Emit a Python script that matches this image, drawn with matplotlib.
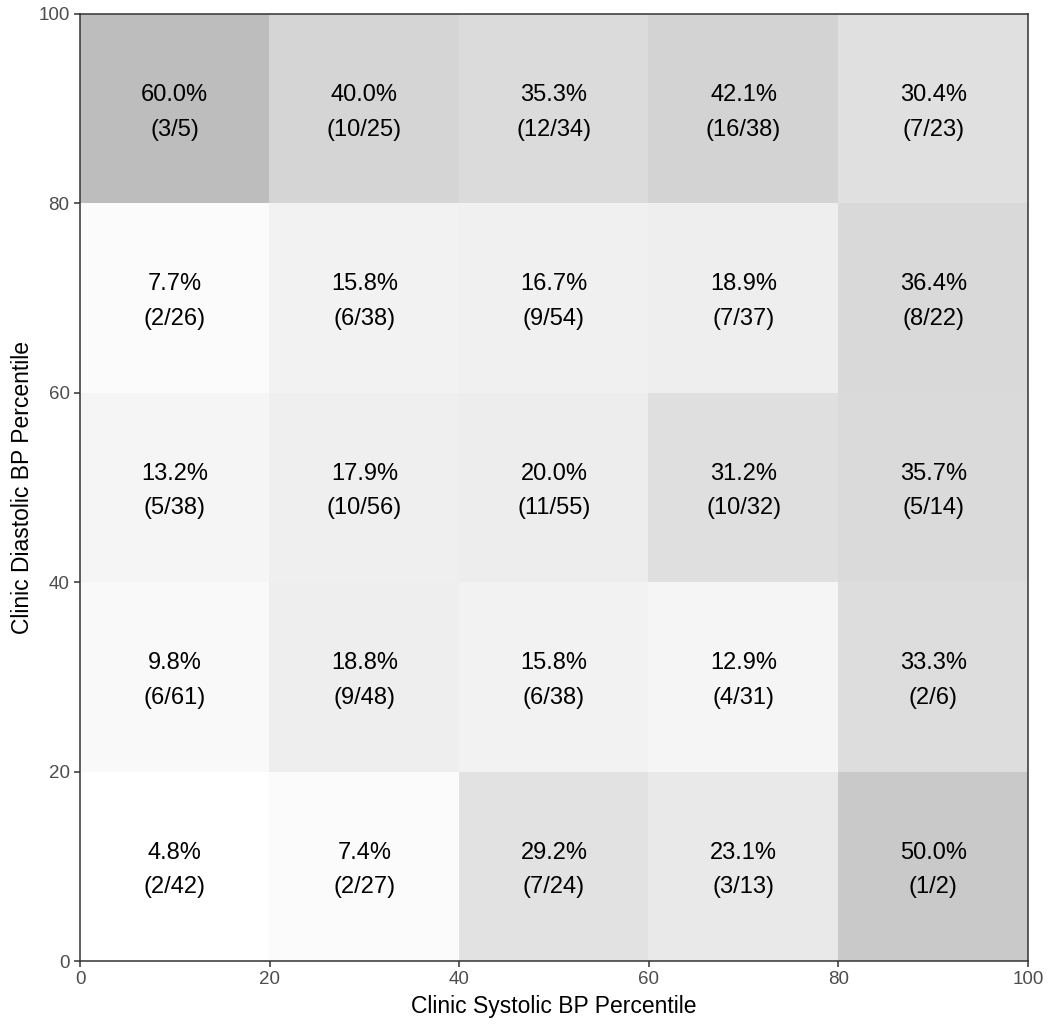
import numpy as np
import matplotlib
matplotlib.use("Agg")
import matplotlib.pyplot as plt

plt.rcParams['font.family'] = ['Liberation Sans', 'DejaVu Sans']

# bins (percentile edges)
edges = [0, 20, 40, 60, 80, 100]

# events / totals, rows from bottom (diastolic 0-20) to top (80-100),
# columns systolic 0-20 ... 80-100
events = np.array([
    [2, 2, 7, 3, 1],
    [6, 9, 6, 4, 2],
    [5, 10, 11, 10, 5],
    [2, 6, 9, 7, 8],
    [3, 10, 12, 16, 7],
])
totals = np.array([
    [42, 27, 24, 13, 2],
    [61, 48, 38, 31, 6],
    [38, 56, 55, 32, 14],
    [26, 38, 54, 37, 22],
    [5, 25, 34, 38, 23],
])

rate = events / totals

fig = plt.figure(figsize=(10.5, 10.26), dpi=100)
ax = fig.add_axes([80 / 1050, 65 / 1026, 948 / 1050, 947 / 1026])

# white (lowest rate) -> grey (highest rate)
t = (rate - rate.min()) / (rate.max() - rate.min())
grey = 1 - 0.255 * t
rgb = np.dstack([grey, grey, grey])
ax.imshow(rgb, extent=[0, 100, 0, 100], origin='lower', aspect='auto',
          interpolation='nearest')

centers = [(edges[i] + edges[i + 1]) / 2 for i in range(5)]
for r in range(5):
    for c in range(5):
        x, y = centers[c], centers[r]
        ax.text(x, y + 1.45, f"{rate[r, c] * 100:.1f}%", ha='center', va='center',
                fontsize=17, color='black')
        ax.text(x, y - 2.2, f"({events[r, c]}/{totals[r, c]})", ha='center',
                va='center', fontsize=17, color='black')

ax.set_xlim(0, 100)
ax.set_ylim(0, 100)
ax.set_xticks(edges)
ax.set_yticks(edges)
ax.tick_params(colors='#333333', labelsize=13.5, length=4, width=1.1,
               labelcolor='#4d4d4d')
for s in ax.spines.values():
    s.set_color('#333333')
    s.set_linewidth(1.1)

ax.set_xlabel('Clinic Systolic BP Percentile', fontsize=16.5, labelpad=5)
ax.set_ylabel('Clinic Diastolic BP Percentile', fontsize=16.5, labelpad=3)

fig.savefig('out.png', dpi=100)
